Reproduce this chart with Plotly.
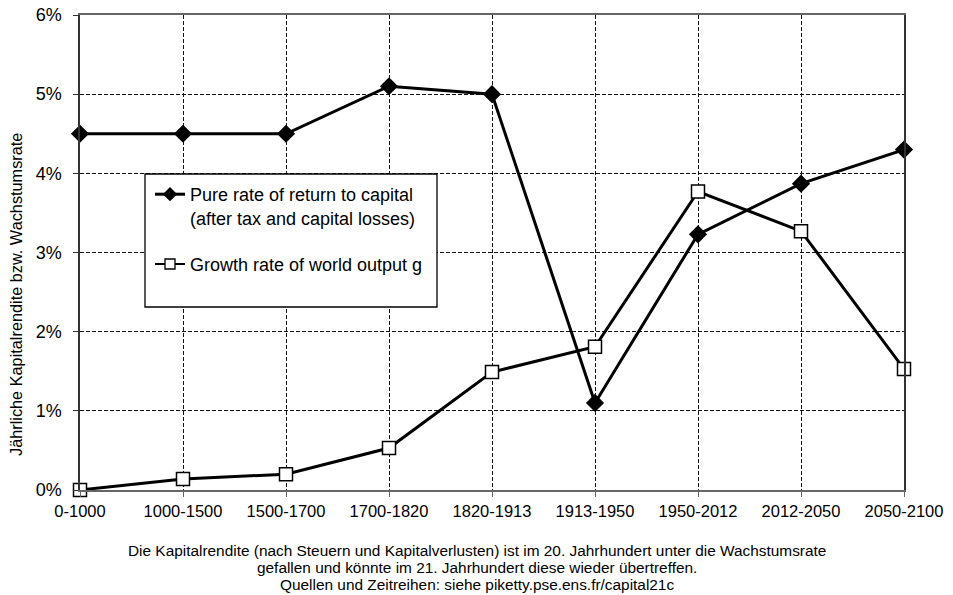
import plotly.graph_objects as go

periods = ["0-1000", "1000-1500", "1500-1700", "1700-1820", "1820-1913",
           "1913-1950", "1950-2012", "2012-2050", "2050-2100"]
return_to_capital = [4.5, 4.5, 4.5, 5.1, 5.0, 1.1, 3.23, 3.87, 4.3]
growth_rate = [0.0, 0.14, 0.2, 0.53, 1.49, 1.81, 3.77, 3.27, 1.53]
y_tick_values = [0, 1, 2, 3, 4, 5, 6]
y_tick_labels = ["0%", "1%", "2%", "3%", "4%", "5%", "6%"]

name_r = "Pure rate of return to capital<br>(after tax and capital losses)"
name_g = "Growth rate of world output g"
y_title = "Jährliche Kapitalrendite bzw. Wachstumsrate"
footer_lines = [
    "Die Kapitalrendite (nach Steuern und Kapitalverlusten) ist im 20. Jahrhundert unter die Wachstumsrate",
    "gefallen und könnte im 21. Jahrhundert diese wieder übertreffen.",
    "Quellen und Zeitreihen: siehe piketty.pse.ens.fr/capital21c",
]

font = "Liberation Sans, Arial, sans-serif"

# plot area in pixels
L, R, T, B = 80, 904, 15, 490
W, H = R - L, B - T


def px(x):
    return (x - L) / W


def py(y):
    return (B - y) / H


fig = go.Figure()
fig.add_trace(go.Scatter(
    x=periods, y=return_to_capital, name=name_r, mode="lines+markers",
    line=dict(color="black", width=3),
    marker=dict(symbol="diamond", size=14, color="black"),
    cliponaxis=False, showlegend=False,
))
fig.add_trace(go.Scatter(
    x=periods, y=growth_rate, name=name_g, mode="lines+markers",
    line=dict(color="black", width=3),
    marker=dict(symbol="square", size=13, color="white", line=dict(color="black", width=1.5)),
    cliponaxis=False, showlegend=False,
))
# legend entries (smaller legend symbols, as in the reference)
fig.add_trace(go.Scatter(
    x=[None], y=[None], name=name_r, mode="lines+markers", legendgroup="r",
    line=dict(color="black", width=3),
    marker=dict(symbol="diamond", size=11, color="black"),
))
fig.add_trace(go.Scatter(
    x=[None], y=[None], name=name_g, mode="lines+markers", legendgroup="g",
    line=dict(color="black", width=2),
    marker=dict(symbol="square", size=10, color="white", line=dict(color="black", width=1.3)),
))

annotations = [dict(
    text=y_title, xref="paper", yref="paper", x=px(16), y=py(295),
    xanchor="center", yanchor="middle", textangle=-90, showarrow=False,
    font=dict(size=16.3, family=font, color="black"),
)]
for i, line in enumerate(footer_lines):
    annotations.append(dict(
        text=line, xref="paper", yref="paper", x=px(477), y=py(550 + 17 * i),
        xanchor="center", yanchor="middle", showarrow=False,
        font=dict(size=15.4, family=font, color="black"),
    ))

fig.update_layout(
    width=953, height=595,
    margin=dict(l=L, r=953 - R, t=T, b=595 - B),
    paper_bgcolor="white", plot_bgcolor="white",
    font=dict(family=font, color="black"),
    showlegend=True,
    legend=dict(
        x=px(150), y=py(176), xanchor="left", yanchor="top",
        bgcolor="rgba(0,0,0,0)", borderwidth=0, valign="top",
        font=dict(size=18, family=font, color="black"),
        tracegroupgap=20, itemwidth=30,
    ),
    shapes=[dict(
        type="rect", xref="paper", yref="paper",
        x0=px(145), x1=px(437), y0=py(307), y1=py(174),
        fillcolor="white", line=dict(color="black", width=1.3), layer="above",
    )],
    annotations=annotations,
)

fig.update_xaxes(
    type="category", range=[0, 8], automargin=False,
    showgrid=True, gridcolor="#111", griddash="4px,2px", gridwidth=1,
    showline=True, linecolor="#666", linewidth=1.5, mirror=True,
    ticks="outside", ticklen=5, tickcolor="#666",
    tickfont=dict(size=16.5, family=font, color="black"),
)
fig.update_yaxes(
    range=[0, 6], tickvals=y_tick_values, ticktext=y_tick_labels, automargin=False,
    showgrid=True, gridcolor="#111", griddash="4px,2px", gridwidth=1,
    showline=True, linecolor="#333", linewidth=1.5, mirror=True,
    ticks="outside", ticklen=5, tickcolor="#333", ticklabelstandoff=8,
    tickfont=dict(size=18, family=font, color="black"),
    zeroline=False,
)

fig.write_html(
    "out.html",
    config={"displayModeBar": False},
    post_script="document.body.style.margin='0px';document.body.style.padding='0px';",
)
